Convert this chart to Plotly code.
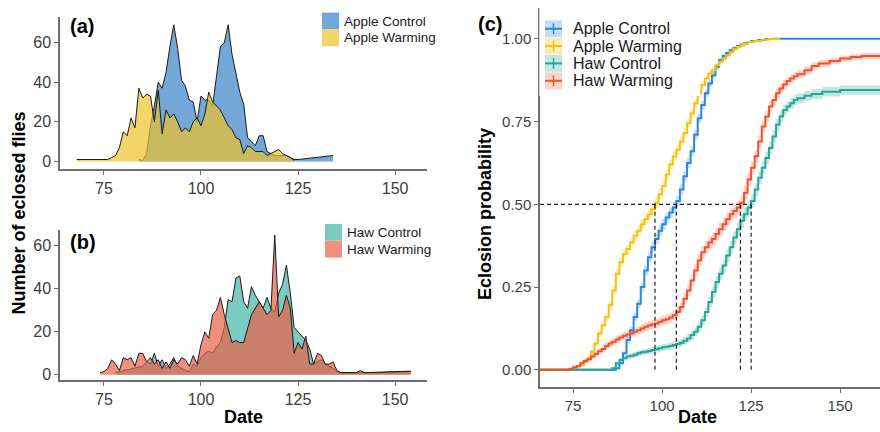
import math
import plotly.graph_objects as go

# ---------------- data ----------------
# Panel (a): daily numbers of eclosed flies, apple host
apple_control_days = list(range(84, 126)) + [134]
apple_control_counts = [1, 0.5, 4, 18, 28, 40, 37, 45, 58, 69, 57, 41, 38, 31, 30, 20, 33, 31, 31, 28,
                        43, 58, 60, 69, 54, 44, 35, 29, 12, 10, 8, 13, 13, 5, 4, 3, 3, 3, 3, 2,
                        1, 1, 3]
apple_warming_days = [68, 76] + list(range(77, 125))
apple_warming_counts = [1, 1,
                        2, 3, 7, 15, 13, 22, 17, 37, 32, 34,
                        33, 20, 36, 14, 26, 22, 24, 20, 15, 17,
                        15, 20, 22, 18, 24, 35, 30, 28, 26, 22,
                        18, 16, 12, 11, 4, 8, 7, 5, 5, 5,
                        3, 4, 5, 6, 4, 3, 2, 0.5]

# Panel (b): daily numbers of eclosed flies, haw host
haw_control_days = [78] + list(range(85, 138)) + [145, 154]
haw_control_counts = [1,
                      4, 6, 5, 10, 4, 7, 3, 5, 8, 4,
                      3, 2, 1.5, 5, 4, 8, 10, 11, 10, 13,
                      15, 22, 35, 34, 45, 46, 34, 31, 41, 37,
                      34, 31, 36, 31, 29, 38, 42, 51, 38, 22,
                      20, 18, 16, 12, 5, 6, 7, 5, 4, 3,
                      1.5, 1, 1,
                      1, 1.5]
haw_warming_days = list(range(74, 137)) + [140, 141, 142, 154]
haw_warming_counts = [1, 1.5, 3, 7, 5, 2, 8, 7, 8, 4,
                      10, 10, 6, 8, 5, 7, 3, 6, 3, 7,
                      5, 8, 7, 4, 9, 5, 14, 20, 17, 28,
                      30, 36, 28, 22, 15, 16, 15, 15, 22, 28,
                      31, 34, 31, 28, 30, 65, 27, 30, 37, 31,
                      10, 15, 12, 18, 5, 5, 10, 9, 5, 5,
                      6, 2, 1,
                      1, 2, 1, 1.7]

# Panel (c): cumulative eclosion probability
ac_p_days = [60, 86] + list(range(87, 126)) + [127, 129, 131, 162]
ac_p = [0, 0,
        0.005, 0.02, 0.05, 0.09, 0.12, 0.16, 0.20, 0.25, 0.30, 0.34,
        0.37, 0.395, 0.42, 0.44, 0.46, 0.475, 0.49, 0.51, 0.545, 0.585,
        0.625, 0.66, 0.71, 0.76, 0.80, 0.835, 0.865, 0.89, 0.915, 0.935,
        0.948, 0.957, 0.965, 0.972, 0.978, 0.982, 0.986, 0.99, 0.993,
        0.996, 0.999, 1.0, 1.0]
aw_p_days = [60] + list(range(75, 125)) + [126, 128, 130, 133]
aw_p = [0, 0.005, 0.01, 0.015, 0.025, 0.035, 0.055, 0.08, 0.11, 0.135,
        0.16, 0.195, 0.24, 0.29, 0.325, 0.35, 0.365, 0.385, 0.405, 0.42,
        0.44, 0.455, 0.47, 0.485, 0.505, 0.53, 0.555, 0.59, 0.62, 0.645,
        0.665, 0.69, 0.715, 0.745, 0.775, 0.805, 0.835, 0.86, 0.88, 0.895,
        0.905, 0.92, 0.93, 0.94, 0.95, 0.96, 0.97, 0.975, 0.98, 0.985,
        0.99, 0.993, 0.997, 0.999, 1.0]
hc_p_days = [60, 85] + list(range(86, 139)) + [140, 142, 145, 150, 162]
hc_p = [0, 0,
        0.005, 0.02, 0.03, 0.035, 0.04, 0.043, 0.046, 0.05, 0.053, 0.055,
        0.057, 0.06, 0.062, 0.065, 0.068, 0.07, 0.072, 0.075, 0.078, 0.082,
        0.088, 0.095, 0.105, 0.115, 0.13, 0.15, 0.175, 0.205, 0.235, 0.265,
        0.29, 0.315, 0.345, 0.37, 0.40, 0.425, 0.45, 0.47, 0.49, 0.51,
        0.545, 0.58, 0.61, 0.64, 0.67, 0.705, 0.74, 0.765, 0.785, 0.795,
        0.805, 0.815, 0.82,
        0.828, 0.833, 0.84, 0.845, 0.846]
hw_p_days = [60] + list(range(74, 139)) + [140, 142, 144, 147, 150, 153, 156, 162]
hw_p = [0, 0.003, 0.008, 0.012, 0.02, 0.027, 0.032, 0.04, 0.048, 0.056,
        0.063, 0.072, 0.08, 0.085, 0.092, 0.098, 0.103, 0.107, 0.11, 0.115,
        0.12, 0.125, 0.13, 0.134, 0.138, 0.14, 0.145, 0.15, 0.153, 0.158,
        0.165, 0.175, 0.19, 0.215, 0.24, 0.27, 0.30, 0.33, 0.355, 0.37,
        0.385, 0.395, 0.41, 0.425, 0.44, 0.455, 0.47, 0.48, 0.49, 0.505,
        0.535, 0.575, 0.61, 0.645, 0.69, 0.735, 0.765, 0.795, 0.815, 0.835,
        0.85, 0.862, 0.872, 0.88, 0.887, 0.893,
        0.905, 0.918, 0.925, 0.933, 0.94, 0.945, 0.948, 0.948]

median_days = [98, 104, 122, 125]
median_level = 0.5

x_ticks = [75, 100, 125, 150]
count_ticks = [0, 20, 40, 60]
prob_ticks = [0, 0.25, 0.5, 0.75, 1.0]
prob_ticktext = ["0.00", "0.25", "0.50", "0.75", "1.00"]

# ---------------- styling ----------------
W, H = 880, 432
FONT = "Arial, Liberation Sans, Helvetica, sans-serif"
AX = "#6e6e6e"
TICKF = "#3d3d3d"
OUTLINE = "#1a1a1a"

fills = {"Apple Control": "rgba(54,130,200,0.7)", "Apple Warming": "rgba(236,194,42,0.7)",
         "Haw Control": "rgba(68,181,165,0.7)", "Haw Warming": "rgba(234,96,71,0.7)"}
swatch = {"Apple Control": "#72a8d9", "Apple Warming": "#f2d46a",
          "Haw Control": "#7ccbc0", "Haw Warming": "#f0907e"}
lines_c = {"Apple Control": "#2b88e0", "Apple Warming": "#f5c211",
           "Haw Control": "#26a69a", "Haw Warming": "#f4502a"}
bands_c = {"Apple Control": "rgba(43,136,224,0.28)", "Apple Warming": "rgba(245,194,17,0.30)",
           "Haw Control": "rgba(38,166,154,0.28)", "Haw Warming": "rgba(244,80,42,0.25)"}
band_h = {"Apple Control": 0.016, "Apple Warming": 0.016, "Haw Control": 0.02, "Haw Warming": 0.02}


def px(v):
    return v / W


def py(v):
    return 1 - v / H


fig = go.Figure()

# ---- panel (a) ----
for name, d, c in [("Apple Control", apple_control_days, apple_control_counts),
                   ("Apple Warming", apple_warming_days, apple_warming_counts)]:
    fig.add_trace(go.Scatter(x=d, y=c, mode="lines", fill="tozeroy", fillcolor=fills[name],
                             line=dict(color=OUTLINE, width=1), name=name,
                             xaxis="x", yaxis="y", showlegend=False, hoverinfo="skip"))

# ---- panel (b) ----
for name, d, c in [("Haw Control", haw_control_days, haw_control_counts),
                   ("Haw Warming", haw_warming_days, haw_warming_counts)]:
    fig.add_trace(go.Scatter(x=d, y=c, mode="lines", fill="tozeroy", fillcolor=fills[name],
                             line=dict(color=OUTLINE, width=1), name=name,
                             xaxis="x2", yaxis="y2", showlegend=False, hoverinfo="skip"))

# ---- panel (c) ----
series_c = [("Apple Control", ac_p_days, ac_p), ("Apple Warming", aw_p_days, aw_p),
            ("Haw Control", hc_p_days, hc_p), ("Haw Warming", hw_p_days, hw_p)]
for name, d, p in series_c:
    hw = [band_h[name] * 2 * math.sqrt(max(v * (1 - v), 0)) for v in p]
    lo = [max(v - w, 0) for v, w in zip(p, hw)]
    hi = [min(v + w, 1) for v, w in zip(p, hw)]
    fig.add_trace(go.Scatter(x=d, y=lo, mode="lines", line=dict(width=0, shape="hv"),
                             xaxis="x3", yaxis="y3", showlegend=False, hoverinfo="skip"))
    fig.add_trace(go.Scatter(x=d, y=hi, mode="lines", line=dict(width=0, shape="hv"),
                             fill="tonexty", fillcolor=bands_c[name],
                             xaxis="x3", yaxis="y3", showlegend=False, hoverinfo="skip"))
for name, d, p in series_c:
    fig.add_trace(go.Scatter(x=d, y=p, mode="lines", line=dict(color=lines_c[name], width=2, shape="hv"),
                             xaxis="x3", yaxis="y3", showlegend=False, hoverinfo="skip", name=name))

x3_range = [65.7, 161.2]
dash_style = dict(color="#222222", width=1.2, dash="4px,3px")
fig.add_trace(go.Scatter(x=[x3_range[0], max(median_days)], y=[median_level, median_level], mode="lines",
                         line=dash_style, xaxis="x3", yaxis="y3", showlegend=False, hoverinfo="skip"))
for m in median_days:
    fig.add_trace(go.Scatter(x=[m, m], y=[0, median_level], mode="lines", line=dash_style,
                             xaxis="x3", yaxis="y3", showlegend=False, hoverinfo="skip"))

# ---- axes ----
common = dict(showline=True, linecolor=AX, linewidth=1.5, ticks="outside", ticklen=4, tickwidth=1.2,
              tickcolor=AX, showgrid=False, zeroline=False, tickfont=dict(family=FONT, size=16, color=TICKF),
              fixedrange=True)
fig.update_layout(
    xaxis=dict(domain=[px(60), px(427)], range=[63.7, 158.2], anchor="y", tickvals=x_ticks, **common),
    yaxis=dict(domain=[py(171), py(17)], range=[-4, 73], anchor="x", tickvals=count_ticks, **common),
    xaxis2=dict(domain=[px(60), px(427)], range=[63.7, 158.2], anchor="y2", tickvals=x_ticks, **common),
    yaxis2=dict(domain=[py(383.3), py(231.7)], range=[-2.3, 67.6], anchor="x2", tickvals=count_ticks, **common),
    xaxis3=dict(domain=[px(540), 1.0], range=x3_range, anchor="y3", tickvals=x_ticks, **common),
    yaxis3=dict(domain=[py(390.7), py(8)], range=[-0.052, 1.093], anchor="x3", tickvals=prob_ticks,
                ticktext=prob_ticktext, **common),
)
fig.layout.yaxis3.tickfont.size = 15
fig.layout.xaxis3.tickfont.size = 15

shapes = []
annotations = []

# white cover behind legend (c)
shapes.append(dict(type="rect", xref="paper", yref="paper", x0=px(539.3), x1=px(700), y0=py(97), y1=py(0),
                   fillcolor="white", line=dict(width=0), layer="above"))

# legends (a) and (b): square keys
for names, x0, y0, tx in [(["Apple Control", "Apple Warming"], 322, 12.7, 342),
                          (["Haw Control", "Haw Warming"], 325, 226, 345)]:
    for i, nm in enumerate(names):
        top = y0 + i * 17
        shapes.append(dict(type="rect", xref="paper", yref="paper", x0=px(x0), x1=px(x0 + 17),
                           y0=py(top + 17), y1=py(top), fillcolor=swatch[nm], line=dict(width=0),
                           layer="above"))
        annotations.append(dict(text=nm, x=px(tx), y=py(top + 8.5), xref="paper", yref="paper",
                                xanchor="left", yanchor="middle", showarrow=False,
                                font=dict(family=FONT, size=13.5, color="#1a1a1a")))

# legend (c): band + cross keys
for i, (nm, _, _) in enumerate(series_c):
    cy = 29 + i * 17.5
    shapes.append(dict(type="rect", xref="paper", yref="paper", x0=px(545), x1=px(562),
                       y0=py(cy + 8.5), y1=py(cy - 8.5), fillcolor=bands_c[nm], line=dict(width=0),
                       layer="above"))
    shapes.append(dict(type="line", xref="paper", yref="paper", x0=px(545), x1=px(562),
                       y0=py(cy), y1=py(cy), line=dict(color=lines_c[nm], width=2), layer="above"))
    shapes.append(dict(type="line", xref="paper", yref="paper", x0=px(553.5), x1=px(553.5),
                       y0=py(cy + 5.5), y1=py(cy - 5.5), line=dict(color=lines_c[nm], width=1.5),
                       layer="above"))
    annotations.append(dict(text=nm, x=px(571), y=py(cy), xref="paper", yref="paper",
                            xanchor="left", yanchor="middle", showarrow=False,
                            font=dict(family=FONT, size=16, color="#1a1a1a")))

# titles and panel labels
def label(text, x, y, size, angle=0, anchor="center"):
    annotations.append(dict(text="<b>%s</b>" % text, x=px(x), y=py(y), xref="paper", yref="paper",
                            xanchor=anchor, yanchor="middle", showarrow=False, textangle=angle,
                            font=dict(family=FONT, size=size, color="black")))

label("Number of eclosed flies", 19, 215.5, 18, angle=-90)
label("Eclosion probability", 485, 216, 18, angle=-90)
label("Date", 243, 421, 18)
label("Date", 697, 421, 18)
label("(a)", 68, 26, 20, anchor="left")
label("(b)", 68, 244, 20, anchor="left")
label("(c)", 476, 24, 20, anchor="left")

fig.update_layout(width=W, height=H, margin=dict(l=0, r=0, t=0, b=0), plot_bgcolor="white",
                  paper_bgcolor="white", showlegend=False, shapes=shapes, annotations=annotations,
                  font=dict(family=FONT))

fig.write_html("out.html", post_script="document.body.style.margin='0';",
               config={"displayModeBar": False})
